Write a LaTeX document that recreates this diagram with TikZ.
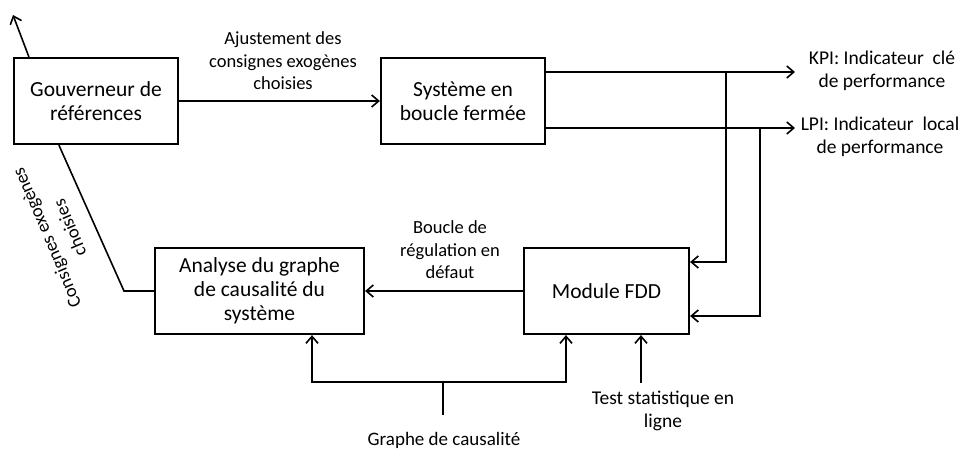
\documentclass[tikz,border=0pt]{standalone}
\usepackage{fontspec}
\setmainfont{Carlito}
\usetikzlibrary{arrows.meta}
\begin{document}
\begin{tikzpicture}[x=1pt,y=-1pt,
  blk/.style={draw,line width=2.2pt,inner sep=0pt,align=center,font=\fontsize{21.5}{24}\selectfont},
  lbl/.style={align=center,inner sep=0pt,font=\fontsize{18.5}{22.5}\selectfont},
  conn/.style={line width=1.6pt},
  arr/.style={conn,-{Straight Barb[length=7pt,width=12pt,line width=1.6pt]}}]
\useasboundingbox (0,0) rectangle (962,448);
% blocks
\node[blk,minimum width=164pt,minimum height=86pt] (gouv) at (96,101) {Gouverneur de\\références};
\node[blk,minimum width=164pt,minimum height=86pt] (sys) at (463,101) {Système en\\boucle fermée};
\node[blk,minimum width=209pt,minimum height=86pt] (ana) at (259.5,291) {Analyse du graphe\\de causalité du\\système};
\node[blk,minimum width=165pt,minimum height=86pt] (fdd) at (606.5,291) {Module FDD};
% labels
\node[lbl] (ajust) at (283,61) {Ajustement des\\consignes exogènes\\choisies};
\node[lbl] (boucle) at (450,250) {Boucle de\\régulation en\\défaut};
\node[lbl,font=\fontsize{19.5}{23}\selectfont] (kpi) at (882,71) {KPI: Indicateur~~clé\\de performance};
\node[lbl,font=\fontsize{19.5}{23}\selectfont] (lpi) at (880,137) {LPI: Indicateur~~local\\de performance};
\node[lbl,rotate=113,font=\fontsize{18.5}{25}\selectfont] (cons) at (58,233) {Consignes exogènes\\choisies};
\node[lbl,font=\fontsize{19}{22.5}\selectfont] (graphe) at (444,440) {Graphe de causalité};
\node[lbl,font=\fontsize{19.5}{22.5}\selectfont] (test) at (663,411) {Test statistique en\\ligne};
% coordinates
\coordinate (up) at (13,15);
\coordinate (kpiend) at (795,72);
\coordinate (lpiend) at (795,128);
\coordinate (kpitap) at (726,72);
\coordinate (lpitap) at (760,128);
\coordinate (bend) at (124,291);
\coordinate (stem) at (443,415);
\coordinate (junc) at (443,382);
\coordinate (testfoot) at (641,383);
% connectors
\draw[arr] (gouv.east) -- (sys.west);
\draw[arr] (gouv.north west) ++(16,0) -- (up);
\draw[arr] (sys.east |- kpiend) -- (kpiend);
\draw[arr] (sys.east |- lpiend) -- (lpiend);
\draw[arr] (kpitap) -- (kpitap |- 0,262) -- (fdd.east |- 0,262);
\draw[arr] (lpitap) -- (lpitap |- 0,316) -- (fdd.east |- 0,316);
\draw[arr] (fdd.west) -- (ana.east);
\draw[conn] (gouv.south west) ++(46,0) -- (bend) -- (ana.west);
\draw[conn] (stem) -- (junc);
\draw[arr] (junc) -| (ana.south -| 312,0);
\draw[arr] (junc) -| (fdd.south -| 566,0);
\draw[arr] (testfoot) -- (fdd.south -| testfoot);
\end{tikzpicture}
\end{document}
